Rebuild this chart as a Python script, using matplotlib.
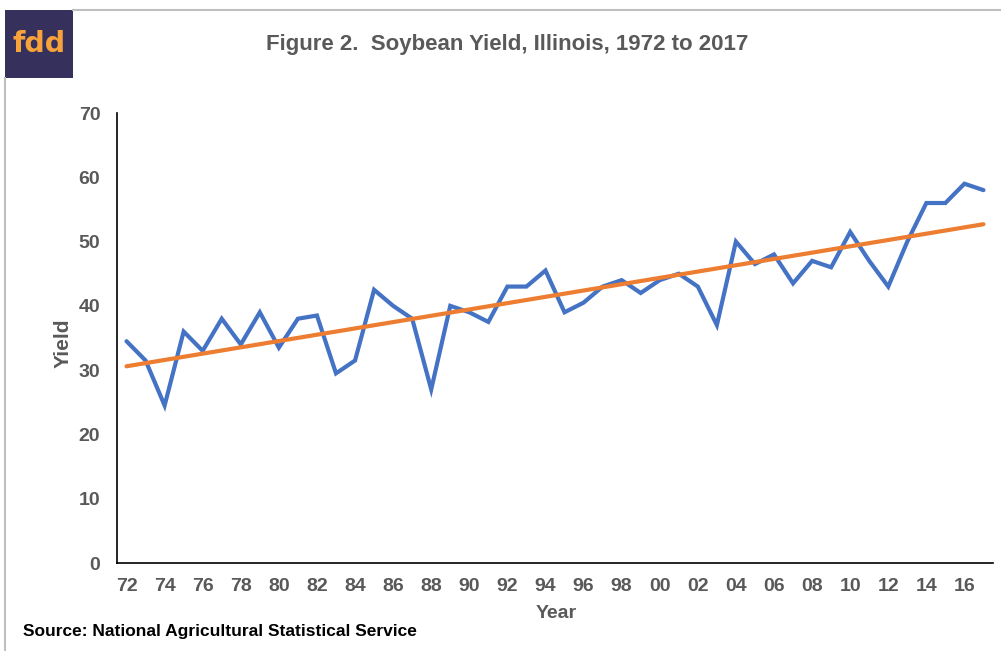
import matplotlib.pyplot as plt
from matplotlib.patches import Rectangle
from matplotlib.lines import Line2D

# Illinois soybean yield (bu/acre)
years = list(range(1972, 2018))
yields = [34.5, 31.5, 24.5, 36.0, 33.0, 38.0, 34.0, 39.0, 33.5, 38.0,
          38.5, 29.5, 31.5, 42.5, 40.0, 38.0, 27.0, 40.0, 39.0, 37.5,
          43.0, 43.0, 45.5, 39.0, 40.5, 43.0, 44.0, 42.0, 44.0, 45.0,
          43.0, 37.0, 50.0, 46.5, 48.0, 43.5, 47.0, 46.0, 51.5, 47.0,
          43.0, 50.0, 56.0, 56.0, 59.0, 58.0]
# linear trend line end points as drawn
trend_years = [1972, 2017]
trend_vals = [30.6, 52.7]
tick_years = list(range(1972, 2017, 2))
tick_labels = ['%02d' % (y % 100) for y in tick_years]

W, H = 1001, 651
fig = plt.figure(figsize=(W / 100, H / 100), dpi=100)
font = 'Liberation Sans'
grey = '#595959'

ax = fig.add_axes([117 / W, 1 - 563 / H, (993 - 117) / W, (563 - 113) / H])
ax.plot(years, yields, color='#4472C4', lw=3.0, solid_joinstyle='miter', solid_capstyle='round')
ax.plot(trend_years, trend_vals, color='#ED7D31', lw=3.0, solid_capstyle='round')
ax.set_xlim(1971.5, 2017.5)
ax.set_ylim(0, 70)
ax.set_yticks(range(0, 71, 10))
ax.set_xticks(tick_years)
ax.set_xticklabels(tick_labels)
for s in ['top', 'right']:
    ax.spines[s].set_visible(False)
for s in ['left', 'bottom']:
    ax.spines[s].set_linewidth(1.2)
    ax.spines[s].set_color('black')
ax.tick_params(axis='both', length=0, labelsize=14, labelcolor=grey)
ax.tick_params(axis='x', pad=11)
ax.tick_params(axis='y', pad=12)
for lab in ax.get_xticklabels() + ax.get_yticklabels():
    lab.set_fontfamily(font)
    lab.set_fontweight('bold')

fig.text(507 / W, 1 - 50 / H, 'Figure 2.  Soybean Yield, Illinois, 1972 to 2017',
         ha='center', va='baseline', fontsize=16, fontweight='bold', color=grey, family=font)
fig.text(63 / W, 1 - 343 / H, 'Yield', rotation=90, ha='center', va='center',
         fontsize=15, fontweight='bold', color=grey, family=font)
fig.text(556 / W, 1 - 613 / H, 'Year', ha='center', va='center',
         fontsize=14, fontweight='bold', color=grey, family=font)
fig.text(23 / W, 1 - 636 / H, 'Source: National Agricultural Statistical Service',
         ha='left', va='baseline', fontsize=12.5, fontweight='bold', color='black', family=font)

# frame and logo
fig.add_artist(Line2D([73 / W, 1], [1 - 10 / H, 1 - 10 / H], color='#bfbfbf', lw=1.5))
fig.add_artist(Line2D([5 / W, 5 / W], [0, 1 - 78 / H], color='#bfbfbf', lw=1.5))
fig.add_artist(Rectangle((5 / W, 1 - 78 / H), 68 / W, 68 / H, facecolor='#35305c',
                         edgecolor='none', transform=fig.transFigure))
fig.text(39 / W, 1 - 44 / H, 'fdd', ha='center', va='center', fontsize=20.5,
         fontweight='bold', color='#F7A23A', family='DejaVu Sans')

fig.savefig('out.png', dpi=100)
